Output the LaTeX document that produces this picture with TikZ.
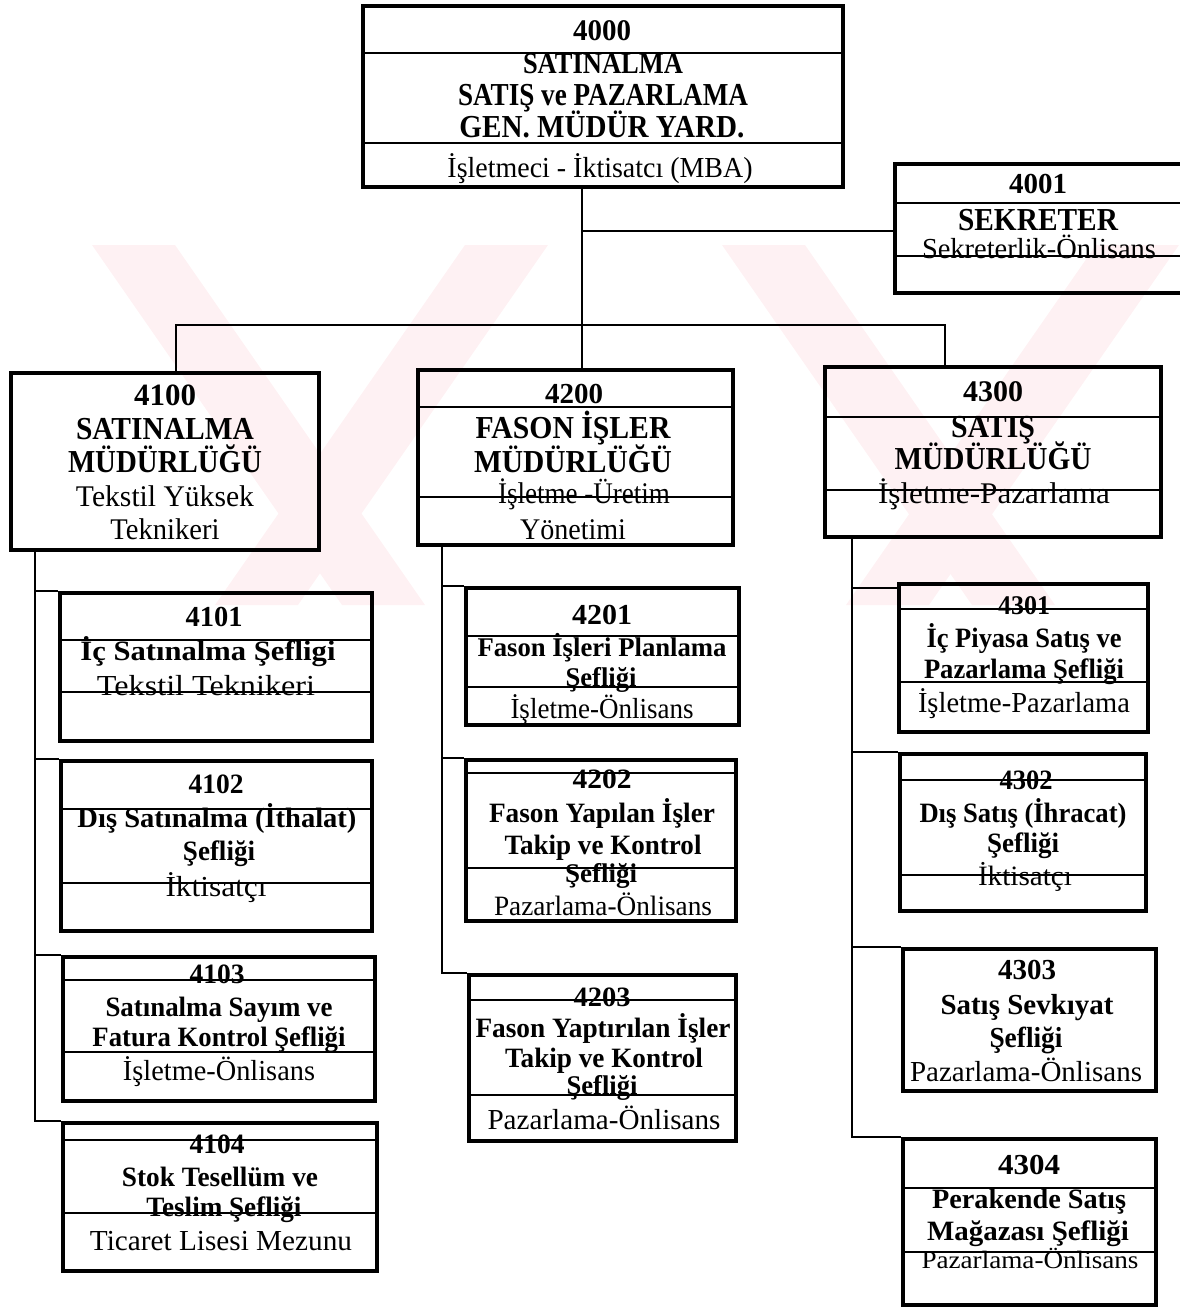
\documentclass[tikz,border=0pt]{standalone}
\usepackage{fontspec}
\setmainfont{Liberation Serif}
\usepackage{graphicx}
\usetikzlibrary{fit}
\definecolor{wm}{RGB}{254,241,243}

% one line of text: name, x, visual centre y, font size, width, text
\newcommand\tline[6]{\node[txt] (#1) at (#2,{-#3-0.33*#4}) {\resizebox{#5pt}{\height}{\fontsize{#4pt}{#4pt}\selectfont #6}};}
% framed box from its border corners (left, top, right, bottom)
\newcommand\orgbox[5]{\node[box, fit={(#2,-#3) (#4,-#5)}] (#1) {};}
% horizontal rule across a box at height y
\newcommand\rowline[2]{\path (0,-#2) coordinate (rl); \draw[rule] (#1.west |- rl) -- (#1.east |- rl);}

\begin{document}
\begin{tikzpicture}[x=1pt,y=1pt,
  box/.style={draw, line width=3.6pt, inner sep=0pt},
  rule/.style={line width=1.6pt},
  conn/.style={line width=1.6pt},
  txt/.style={anchor=base, inner sep=0pt}]
\useasboundingbox (0,0) rectangle (1179,-1308);

% faint background emblem
\begin{scope}
\fill[wm] (92,-245) -- (175,-245) -- (425,-605) -- (342,-605) -- cycle;
\fill[wm] (465,-245) -- (548,-245) -- (298,-605) -- (215,-605) -- cycle;
\fill[wm] (722,-245) -- (805,-245) -- (1055,-605) -- (972,-605) -- cycle;
\fill[wm] (1096,-245) -- (1179,-245) -- (929,-605) -- (846,-605) -- cycle;
\end{scope}

% ---------- boxes ----------
\orgbox{b4000}{363}{6}{843}{187}
\orgbox{b4001}{895}{164}{1184}{293}
\orgbox{b4100}{11}{373}{319}{550}
\orgbox{b4200}{418}{370}{733}{545}
\orgbox{b4300}{825}{367}{1161}{537}
\orgbox{b4101}{60}{593}{372}{741}
\orgbox{b4102}{61}{761}{372}{931}
\orgbox{b4103}{63}{957}{375}{1101}
\orgbox{b4104}{63}{1123}{377}{1271}
\orgbox{b4201}{466}{588}{739}{725}
\orgbox{b4202}{466}{760}{736}{921}
\orgbox{b4203}{469}{975}{736}{1141}
\orgbox{b4301}{899}{584}{1148}{732}
\orgbox{b4302}{900}{754}{1146}{911}
\orgbox{b4303}{903}{949}{1156}{1091}
\orgbox{b4304}{903}{1139}{1156}{1305}

% ---------- rules inside boxes ----------
\rowline{b4000}{53}  \rowline{b4000}{143}
\rowline{b4001}{203} \rowline{b4001}{256}
\rowline{b4200}{407} \rowline{b4200}{497}
\rowline{b4300}{417} \rowline{b4300}{490}
\rowline{b4101}{640} \rowline{b4101}{692}
\rowline{b4102}{809} \rowline{b4102}{883}
\rowline{b4103}{980} \rowline{b4103}{1052}
\rowline{b4104}{1140} \rowline{b4104}{1213}
\rowline{b4201}{636} \rowline{b4201}{687}
\rowline{b4202}{773} \rowline{b4202}{868}
\rowline{b4203}{1000} \rowline{b4203}{1095}
\rowline{b4301}{609} \rowline{b4301}{682}
\rowline{b4302}{780} \rowline{b4302}{875}
\rowline{b4304}{1188} \rowline{b4304}{1252}

% ---------- texts ----------
\tline{t4000a}{602}{31}{30}{58}{\bfseries 4000}
\tline{t4000b}{603}{64}{30}{160}{\bfseries SATINALMA}
\tline{t4000c}{603}{95}{32}{290}{\bfseries SATIŞ ve PAZARLAMA}
\tline{t4000d}{602}{127}{32}{285}{\bfseries GEN. MÜDÜR YARD.}
\tline{t4000e}{600}{168}{29}{305}{İşletmeci - İktisatcı (MBA)}

\tline{t4001a}{1038}{184}{29}{58}{\bfseries 4001}
\tline{t4001b}{1038}{220}{32}{160}{\bfseries SEKRETER}
\tline{t4001c}{1039}{249}{29}{234}{Sekreterlik-Önlisans}

\tline{t4100a}{165}{395}{31}{62}{\bfseries 4100}
\tline{t4100b}{165}{429}{32}{178}{\bfseries SATINALMA}
\tline{t4100c}{165}{462}{32}{194}{\bfseries MÜDÜRLÜĞÜ}
\tline{t4100d}{165}{497}{30}{178}{Tekstil Yüksek}
\tline{t4100e}{165}{530}{30}{109}{Teknikeri}

\tline{t4200a}{574}{394}{29}{58}{\bfseries 4200}
\tline{t4200b}{573}{428}{32}{195}{\bfseries FASON İŞLER}
\tline{t4200c}{573}{462}{32}{198}{\bfseries MÜDÜRLÜĞÜ}
\tline{t4200d}{584}{494}{30}{172}{İşletme -Üretim}
\tline{t4200e}{573}{530}{30}{106}{Yönetimi}

\tline{t4300a}{993}{392}{30}{60}{\bfseries 4300}
\tline{t4300b}{993}{427}{32}{84}{\bfseries SATIŞ}
\tline{t4300c}{993}{459}{32}{197}{\bfseries MÜDÜRLÜĞÜ}
\tline{t4300d}{994}{494}{30}{232}{İşletme-Pazarlama}

\tline{t4101a}{214}{617}{29}{57}{\bfseries 4101}
\tline{t4101b}{208}{651}{28}{255}{\bfseries İç Satınalma Şefligi}
\tline{t4101c}{206}{686}{29}{218}{Tekstil Teknikeri}

\tline{t4102a}{216}{784}{28}{55}{\bfseries 4102}
\tline{t4102b}{217}{818}{28}{279}{\bfseries Dış Satınalma (İthalat)}
\tline{t4102c}{219}{851}{28}{72}{\bfseries Şefliği}
\tline{t4102d}{216}{887}{29}{101}{İktisatçı}

\tline{t4103a}{217}{974}{28}{55}{\bfseries 4103}
\tline{t4103b}{219}{1007}{28}{227}{\bfseries Satınalma Sayım ve}
\tline{t4103c}{219}{1037}{28}{253}{\bfseries Fatura Kontrol Şefliği}
\tline{t4103d}{219}{1071}{29}{192}{İşletme-Önlisans}

\tline{t4104a}{217}{1144}{28}{55}{\bfseries 4104}
\tline{t4104b}{220}{1177}{28}{196}{\bfseries Stok Tesellüm ve}
\tline{t4104c}{224}{1207}{28}{155}{\bfseries Teslim Şefliği}
\tline{t4104d}{221}{1241}{29}{262}{Ticaret Lisesi Mezunu}

\tline{t4201a}{602}{615}{29}{60}{\bfseries 4201}
\tline{t4201b}{602}{648}{27}{249}{\bfseries Fason İşleri Planlama}
\tline{t4201c}{601}{678}{27}{71}{\bfseries Şefliği}
\tline{t4201d}{602}{709}{29}{183}{İşletme-Önlisans}

\tline{t4202a}{602}{779}{28}{59}{\bfseries 4202}
\tline{t4202b}{602}{813}{28}{226}{\bfseries Fason Yapılan İşler}
\tline{t4202c}{603}{845}{28}{197}{\bfseries Takip ve Kontrol}
\tline{t4202d}{601}{874}{27}{72}{\bfseries Şefliği}
\tline{t4202e}{603}{906}{28}{218}{Pazarlama-Önlisans}

\tline{t4203a}{602}{997}{28}{57}{\bfseries 4203}
\tline{t4203b}{603}{1028}{28}{255}{\bfseries Fason Yaptırılan İşler}
\tline{t4203c}{604}{1058}{28}{198}{\bfseries Takip ve Kontrol}
\tline{t4203d}{602}{1086}{27}{71}{\bfseries Şefliği}
\tline{t4203e}{604}{1120}{29}{233}{Pazarlama-Önlisans}

\tline{t4301a}{1024}{606}{27}{52}{\bfseries 4301}
\tline{t4301b}{1024}{638}{28}{195}{\bfseries İç Piyasa Satış ve}
\tline{t4301c}{1024}{669}{28}{200}{\bfseries Pazarlama Şefliği}
\tline{t4301d}{1024}{703}{29}{212}{İşletme-Pazarlama}

\tline{t4302a}{1026}{780}{28}{53}{\bfseries 4302}
\tline{t4302b}{1023}{813}{28}{207}{\bfseries Dış Satış (İhracat)}
\tline{t4302c}{1023}{843}{28}{72}{\bfseries Şefliği}
\tline{t4302d}{1025}{876}{28}{94}{İktisatçı}

\tline{t4303a}{1027}{970}{29}{58}{\bfseries 4303}
\tline{t4303b}{1027}{1005}{29}{173}{\bfseries Satış Sevkıyat}
\tline{t4303c}{1026}{1038}{29}{73}{\bfseries Şefliği}
\tline{t4303d}{1026}{1072}{29}{232}{Pazarlama-Önlisans}

\tline{t4304a}{1029}{1165}{29}{62}{\bfseries 4304}
\tline{t4304b}{1029}{1199}{28}{194}{\bfseries Perakende Satış}
\tline{t4304c}{1028}{1231}{28}{202}{\bfseries Mağazası Şefliği}
\tline{t4304d}{1030}{1260}{25}{217}{Pazarlama-Önlisans}

% ---------- connectors ----------
\coordinate (stem) at (582,0);
\coordinate (j4001) at (582,-231);
\coordinate (busL) at (176,-325);
\coordinate (busR) at (945,-325);
\coordinate (c41) at (35,0);
\coordinate (c42) at (442,0);
\coordinate (c43) at (852,0);

\draw[conn] (stem |- b4000.south) -- (stem |- b4200.north);
\draw[conn] (j4001) -- (j4001 -| b4001.west);
\draw[conn] (busL |- b4100.north) -- (busL) -- (busR) -- (busR |- b4300.north);

% purchasing branch
\draw[conn] (c41 |- b4100.south) -- (c41 |- b4104.north) -- (b4104.north west);
\draw[conn] (c41 |- b4101.north) -- (b4101.north west);
\draw[conn] (c41 |- b4102.north) -- (b4102.north west);
\draw[conn] (c41 |- b4103.north) -- (b4103.north west);

% subcontracting branch
\draw[conn] (c42 |- b4200.south) -- (c42 |- b4203.north) -- (b4203.north west);
\draw[conn] (c42 |- b4201.north) -- (b4201.north west);
\draw[conn] (c42 |- b4202.north) -- (b4202.north west);

% sales branch
\coordinate (k4301) at ([yshift=-6pt]b4301.north west);
\draw[conn] (c43 |- b4300.south) -- (c43 |- b4304.north) -- (b4304.north west);
\draw[conn] (c43 |- k4301) -- (k4301);
\draw[conn] (c43 |- b4302.north) -- (b4302.north west);
\draw[conn] (c43 |- b4303.north) -- (b4303.north west);
\end{tikzpicture}
\end{document}
